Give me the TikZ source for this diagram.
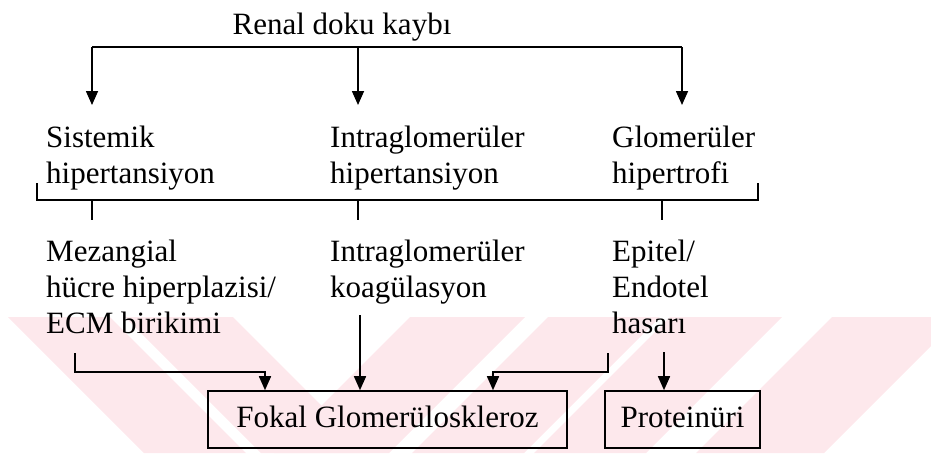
\documentclass[tikz,border=0pt]{standalone}
\usepackage{fontspec}
\setmainfont{Liberation Serif}
\usetikzlibrary{arrows.meta}
\definecolor{wmpink}{RGB}{253,232,236}
\newcommand{\diagfont}{\fontsize{31}{36}\selectfont}
\tikzset{
  line/.style={line width=1.6pt},
  arr/.style={line width=1.6pt, -{Triangle[length=14pt,width=12pt]}},
  txt/.style={anchor=north west, inner sep=0pt, align=left, font=\diagfont},
  boxnode/.style={draw, line width=1.6pt, inner sep=0pt, font=\diagfont,
    minimum height=57pt, text height=21pt, text depth=6pt},
}
\begin{document}
\begin{tikzpicture}[x=1pt,y=-1pt]
\useasboundingbox (0,0) rectangle (931,453);

% faint striped background band along the bottom
\begin{scope}
  \clip (0,317) rectangle (931,453);
  \foreach \a/\b in {8/110,125/233}
    \fill[wmpink] (\a,317) -- (\b,317) -- (\b+136,453) -- (\a+136,453) -- cycle;
  \foreach \a/\b in {410/525,548/660,670/782,832/960}
    \fill[wmpink] (\a,317) -- (\b,317) -- (\b-136,453) -- (\a-136,453) -- cycle;
\end{scope}

% texts
\node[anchor=base, inner sep=0pt, font=\diagfont] (renal) at (342,34) {Renal doku kaybı};
\node[txt] (sis)   at (46,121.8)  {\strut Sistemik\\hipertansiyon};
\node[txt] (intra) at (330,121.8) {\strut Intraglomerüler\\hipertansiyon};
\node[txt] (glom)  at (612,121.8) {\strut Glomerüler\\hipertrofi};
\node[txt] (mez)   at (46,235.8)  {\strut Mezangial\\hücre hiperplazisi/\\ECM birikimi};
\node[txt] (koag)  at (330,235.8) {\strut Intraglomerüler\\koagülasyon};
\node[txt] (epi)   at (612,235.8) {\strut Epitel/\\Endotel\\hasarı};

% boxes
\node[boxnode, minimum width=359pt] (fokal) at (387.5,419.5) {Fokal Glomerüloskleroz};
\node[boxnode, minimum width=155pt] (prot)  at (682.5,419.5) {Proteinüri};

% top fork
\coordinate (b1) at (92,47);
\coordinate (b2) at (358,47);
\coordinate (b3) at (682,47);
\draw[line] (b1) -- (b3);
\draw[arr] (b1) -- (92,105);
\draw[arr] (b2) -- (358,105);
\draw[arr] (b3) -- (682,105);

% bracket under the second row
\coordinate (k1) at (37,183);
\coordinate (k2) at (758,183);
\draw[line] (k1) -- (37,200) -- (758,200) -- (k2);
\draw[line] (92,200) -- (92,220);
\draw[line] (358,200) -- (358,220);
\draw[line] (662,200) -- (662,220);

% connectors into the boxes
\coordinate (c1) at (75,353);
\coordinate (e1) at (265,372);
\draw[arr] (c1) |- (e1) -- (e1 |- fokal.north);
\coordinate (c2) at (360,315);
\draw[arr] (c2) -- (c2 |- fokal.north);
\coordinate (c3) at (608,353);
\coordinate (e3) at (493,372);
\draw[arr] (c3) |- (e3) -- (e3 |- fokal.north);
\coordinate (c4) at (664,352);
\draw[arr] (c4) -- (c4 |- prot.north);
\end{tikzpicture}
\end{document}
